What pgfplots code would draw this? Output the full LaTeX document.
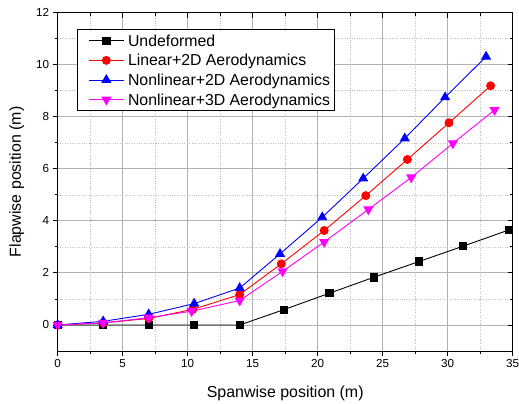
\documentclass[border=0pt]{standalone}
\usepackage{pgfplots}
\pgfplotsset{compat=1.18}
\usepackage{fontspec}
\setmainfont{Liberation Sans}
\definecolor{mag}{RGB}{255,0,255}
\definecolor{rd}{RGB}{255,0,0}
\definecolor{bl}{RGB}{0,0,255}
\begin{document}
\begin{tikzpicture}
\path[use as bounding box] (-57.7bp,-53bp) rectangle (461.3bp,351bp);
\begin{axis}[
 at={(0,0)}, anchor=south west,
 width=455bp, height=338.3bp, scale only axis,
 xmin=0, xmax=35, ymin=-1, ymax=12,
 xtick={0,5,...,35}, ytick={0,2,...,12},
 minor x tick num=1, minor y tick num=1,
 xtick pos=bottom, ytick pos=left, tick align=outside,
 major tick length=5bp, minor tick length=3bp,
 grid=both,
 major grid style={black!30, line width=0.9pt},
 minor grid style={black!25, dotted, line width=0.6pt},
 axis line style={line width=1pt},
 every tick/.style={black, line width=0.9pt},
 tick label style={font=\fontsize{11.7}{14}\selectfont},
 /pgf/number format/assume math mode=true,
 xlabel={Spanwise position (m)}, ylabel={Flapwise position (m)},
 label style={font=\fontsize{16}{19}\selectfont},
 xlabel style={at={(axis description cs:0.5,-0.1242)}, anchor=center},
 ylabel style={at={(axis description cs:-0.0901,0.5)}, anchor=center},
 legend style={at={(axis description cs:0.0431,0.951)}, anchor=north west, draw=black, line width=0.8pt, font=\fontsize{15.9}{19}\selectfont, inner xsep=4.2bp, inner ysep=2.6bp, row sep=2.6bp, column sep=3.7bp, nodes={inner sep=0pt, text height=14bp, text depth=3bp}, cells={anchor=west}, fill=white},
 legend image code/.code={\path (0bp,0bp); \draw[mark repeat=2, mark phase=2] plot coordinates {(6.5bp,0bp) (24bp,0bp) (41.5bp,0bp)};},
]
\addplot[black, line width=0.9pt, mark=square*, mark size=3.6bp, mark options={solid}] coordinates {
(0,0) (3.5,0) (7,0) (10.5,0) (14,0) (17.4,0.59) (20.9,1.22) (24.3,1.83) (27.8,2.44) (31.2,3.03) (34.7,3.65)};
\addlegendentry{Undeformed}
\addplot[rd, line width=0.9pt, mark=*, mark size=4bp, mark options={solid}] coordinates {
(0,0) (3.5,0.08) (7.0,0.25) (10.4,0.6) (14.0,1.17) (17.2,2.35) (20.5,3.63) (23.7,4.97) (26.9,6.36) (30.1,7.77) (33.3,9.19)};
\addlegendentry{Linear+2D Aerodynamics}
\addplot[bl, line width=0.9pt, mark=triangle*, mark size=5bp, mark options={solid}] coordinates {
(0,0) (3.5,0.14) (7.0,0.41) (10.5,0.82) (14.0,1.42) (17.1,2.73) (20.35,4.14) (23.5,5.63) (26.7,7.17) (29.8,8.75) (32.95,10.31)};
\addlegendentry{Nonlinear+2D Aerodynamics}
\addplot[mag, line width=0.9pt, mark=triangle*, mark size=5bp, mark options={solid, rotate=180}] coordinates {
(0,0) (3.5,0.08) (7.0,0.28) (10.3,0.53) (14.0,0.94) (17.3,2.06) (20.5,3.19) (23.9,4.44) (27.2,5.67) (30.4,6.98) (33.6,8.26)};
\addlegendentry{Nonlinear+3D Aerodynamics}
\end{axis}
\begin{axis}[
 at={(0,0)}, anchor=south west,
 width=455bp, height=338.3bp, scale only axis,
 xmin=0, xmax=35, ymin=-1, ymax=12,
 xtick={0,5,...,35}, ytick={0,2,...,12},
 minor x tick num=1, minor y tick num=1,
 xtick pos=top, ytick pos=right, tick align=inside,
 major tick length=5bp, minor tick length=3bp,
 xticklabels={}, yticklabels={},
 axis line style={line width=1pt},
 every tick/.style={black, line width=0.9pt},
]
\end{axis}
\end{tikzpicture}
\end{document}
